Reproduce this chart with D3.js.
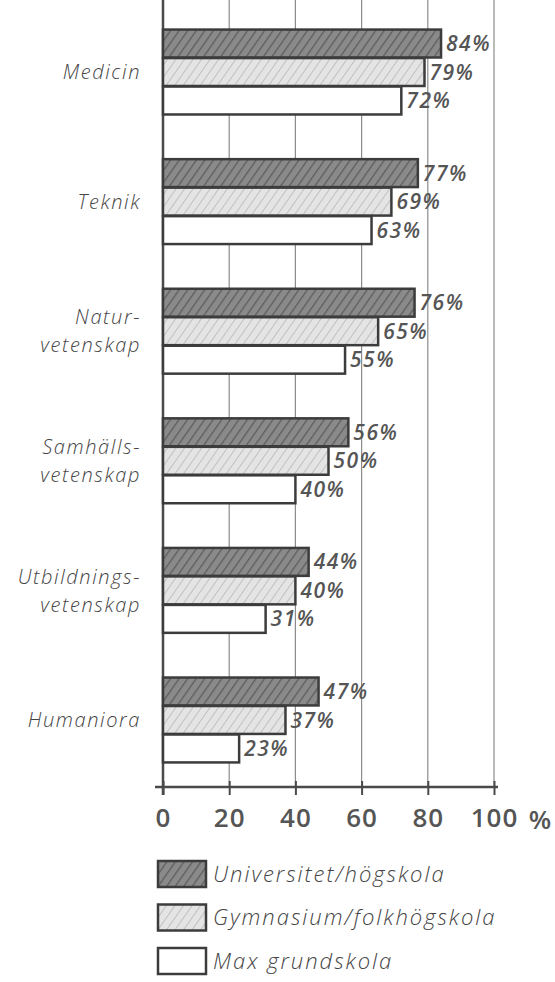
<!DOCTYPE html>
<html>
<head>
<meta charset="utf-8">
<script src="https://cdn.jsdelivr.net/npm/d3@7"></script>
<style>
  body { margin: 0; background: #fff; }
  svg { display: block; }
</style>
</head>
<body>
<div id="chart-area"></div>
<script>
// Data
const categories = ['Medicin', 'Teknik', 'Natur-\nvetenskap', 'Samhälls-\nvetenskap', 'Utbildnings-\nvetenskap', 'Humaniora'];
const seriesNames = ['Universitet/högskola', 'Gymnasium/folkhögskola', 'Max grundskola'];
const univ = [84, 77, 76, 56, 44, 47];
const gymn = [79, 69, 65, 50, 40, 37];
const grund = [72, 63, 55, 40, 31, 23];
const tickValues = [0, 20, 40, 60, 80, 100];

const width = 555, height = 982;
const x0 = 163, x100 = 494, axisY = 787;
const ink = '#4a4a4a';

const svg = d3.select('#chart-area')
  .append('svg')
    .attr('width', width)
    .attr('height', height);

// hatch patterns
const defs = svg.append('defs');
function hatch(id, bg, line, sw) {
  const p = defs.append('pattern')
    .attr('id', id)
    .attr('patternUnits', 'userSpaceOnUse')
    .attr('width', 7).attr('height', 7)
    .attr('patternTransform', 'rotate(35)');
  p.append('rect').attr('width', 7).attr('height', 7).attr('fill', bg);
  p.append('line').attr('x1', 0).attr('y1', 0).attr('x2', 0).attr('y2', 7)
    .attr('stroke', line).attr('stroke-width', sw);
}
hatch('hatch-dark', '#8a8a8a', '#5c5c5c', 2.5);
hatch('hatch-light', '#e4e4e4', '#a8a8a8', 1.2);
const fills = ['url(#hatch-dark)', 'url(#hatch-light)', '#fff'];

// Scales
const x = d3.scaleLinear()
  .domain([0, 100])
  .range([x0, x100]);

const y = d3.scaleBand()
  .domain(categories)
  .range([29, 763])
  .paddingInner(0.336)
  .paddingOuter(0);

const ySub = d3.scaleBand()
  .domain(seriesNames)
  .range([0, y.bandwidth()])
  .padding(0.02);

// grid lines
svg.append('g')
  .selectAll('line')
  .data(tickValues.slice(1))
  .enter().append('line')
    .attr('x1', d => x(d)).attr('x2', d => x(d))
    .attr('y1', 0).attr('y2', axisY)
    .attr('stroke', '#8c8c8c')
    .attr('stroke-width', 1.2);

// X Axis
const xAxisCall = d3.axisBottom(x)
  .tickValues(tickValues)
  .tickSize(8)
  .tickFormat(d => d);
const xAxis = svg.append('g')
  .attr('transform', 'translate(0,' + axisY + ')')
  .call(xAxisCall);
xAxis.select('.domain')
  .attr('d', 'M' + (x0 - 8) + ',0H' + (x100 + 4))
  .attr('stroke', ink).attr('stroke-width', 2.5);
xAxis.selectAll('.tick line')
  .attr('y1', -6).attr('y2', 8)
  .attr('stroke', ink).attr('stroke-width', 2);
xAxis.selectAll('.tick text')
  .attr('y', 22)
  .attr('dy', '0.71em')
  .attr('fill', '#555')
  .attr('font-family', 'Open Sans, sans-serif')
  .attr('font-weight', 600)
  .attr('font-size', '26px')
  .attr('letter-spacing', '1px');
svg.append('text')
  .attr('x', x100 + 46)
  .attr('y', 829)
  .attr('fill', '#555')
  .attr('font-family', 'Open Sans, sans-serif')
  .attr('font-weight', 600)
  .attr('font-size', '26px')
  .attr('text-anchor', 'middle')
  .text('%');

// left axis line
svg.append('line')
  .attr('x1', x0).attr('x2', x0)
  .attr('y1', 0).attr('y2', axisY + 8)
  .attr('stroke', ink)
  .attr('stroke-width', 2.5);

// bars
const groups = svg.append('g')
  .selectAll('g')
  .data(categories.map((c, i) => ({ cat: c, values: [univ[i], gymn[i], grund[i]] })))
  .enter().append('g')
    .attr('transform', d => 'translate(0,' + y(d.cat) + ')');

groups.selectAll('rect')
  .data(d => d.values.map((v, j) => ({ v: v, s: seriesNames[j], j: j })))
  .enter().append('rect')
    .attr('x', x(0))
    .attr('y', d => ySub(d.s))
    .attr('width', d => x(d.v) - x(0))
    .attr('height', ySub.bandwidth())
    .attr('fill', d => fills[d.j])
    .attr('stroke', '#3c3c3c')
    .attr('stroke-width', 2.5);

groups.selectAll('.value')
  .data(d => d.values.map((v, j) => ({ v: v, s: seriesNames[j] })))
  .enter().append('text')
    .attr('class', 'value')
    .attr('x', d => x(d.v) + 5)
    .attr('y', d => ySub(d.s) + ySub.bandwidth() / 2)
    .attr('dy', '0.36em')
    .attr('fill', '#555')
    .attr('font-family', 'Open Sans, sans-serif')
    .attr('font-style', 'italic')
    .attr('font-weight', 600)
    .attr('font-size', '21px')
    .attr('letter-spacing', '1.5px')
    .text(d => d.v + '%');

// category labels
groups.append('text')
  .attr('text-anchor', 'end')
  .attr('fill', '#444')
  .attr('font-family', 'Open Sans, sans-serif')
  .attr('font-style', 'italic')
  .attr('font-weight', 300)
  .attr('font-size', '20px')
  .attr('letter-spacing', '1.6px')
  .each(function(d) {
    const lines = d.cat.split('\n');
    const t = d3.select(this);
    lines.forEach((line, k) => {
      t.append('tspan')
        .attr('x', 141)
        .attr('y', y.bandwidth() / 2 + (k - (lines.length - 1) / 2) * 28)
        .attr('dy', '0.36em')
        .text(line);
    });
  });

// Legend
const legend = svg.append('g')
  .attr('transform', 'translate(158,861)');
seriesNames.forEach((name, i) => {
  const row = legend.append('g')
    .attr('transform', 'translate(0,' + (i * 43.5) + ')');
  row.append('rect')
    .attr('width', 48)
    .attr('height', 26)
    .attr('fill', fills[i])
    .attr('stroke', '#3c3c3c')
    .attr('stroke-width', 2.5);
  row.append('text')
    .attr('x', 55)
    .attr('y', 13)
    .attr('dy', '0.36em')
    .attr('fill', '#444')
    .attr('font-family', 'Open Sans, sans-serif')
    .attr('font-style', 'italic')
    .attr('font-weight', 300)
    .attr('font-size', '22px')
    .attr('letter-spacing', '2px')
    .text(name);
});
</script>
</body>
</html>
